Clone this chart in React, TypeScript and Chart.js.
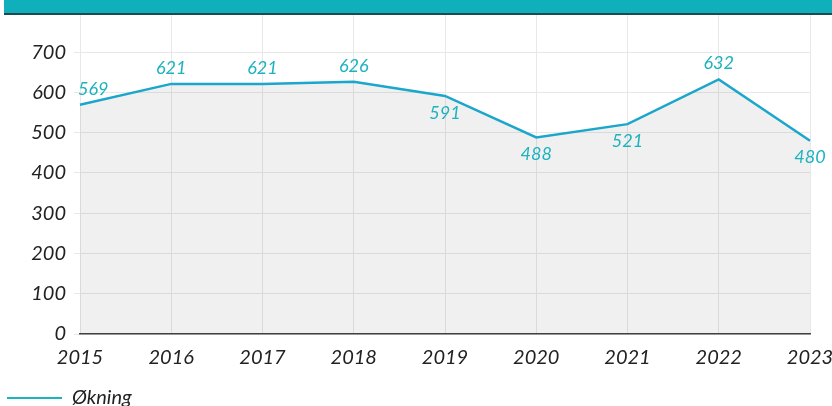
import { useEffect, useRef } from 'react';
import { Chart, registerables } from 'chart.js';

Chart.register(...registerables);

const years = ['2015', '2016', '2017', '2018', '2019', '2020', '2021', '2022', '2023'];
const okning = [569, 621, 621, 626, 591, 488, 521, 632, 480];
const yTickValues = [0, 100, 200, 300, 400, 500, 600, 700];
const labelSides = ['above', 'above', 'above', 'above', 'below', 'below', 'below', 'above', 'below'];
const seriesName = 'Økning';

const FONT = 'Lato, "Open Sans", sans-serif';

const dataLabelPlugin = {
  id: 'dataLabels',
  afterDatasetsDraw(chart: any) {
    const ctx = chart.ctx;
    const meta = chart.getDatasetMeta(0);
    const ds = chart.data.datasets[0];
    ctx.save();
    ctx.font = `italic 18px ${FONT}`;
    ctx.fillStyle = '#1cb2be';
    ctx.textBaseline = 'middle';
    ctx.textAlign = 'center';
    meta.data.forEach((pt: any, i: number) => {
      const text = String(ds.data[i]);
      const w = ctx.measureText(text).width;
      let x = pt.x;
      const y = labelSides[i] === 'above' ? pt.y - 16 : pt.y + 17;
      if (x - w / 2 < 78) x = 78 + w / 2;
      if (x + w / 2 > chart.width - 3) x = chart.width - 3 - w / 2;
      ctx.fillText(text, x, y);
    });
    ctx.restore();
  },
};

export default function App() {
  const ref = useRef<HTMLCanvasElement>(null);
  useEffect(() => {
    if (!ref.current) return;
    const chart = new Chart(ref.current, {
      type: 'line',
      data: {
        labels: years,
        datasets: [
          {
            label: seriesName,
            data: okning,
            borderColor: '#1ba6cb',
            borderWidth: 2.5,
            backgroundColor: 'rgba(0,0,0,0.06)',
            fill: 'origin',
            pointRadius: 0,
            tension: 0,
          },
        ],
      },
      options: {
        responsive: false,
        animation: false,
        layout: { padding: { top: 15, right: 22, left: 3, bottom: -12 } },
        plugins: {
          tooltip: { enabled: false },
          legend: {
            position: 'bottom',
            align: 'start',
            labels: {
              boxWidth: 55,
              boxHeight: 2,
              padding: 4,
              color: '#222',
              font: { family: FONT, size: 20, style: 'italic' },
              generateLabels: (c: any) =>
                c.data.datasets.map((d: any, i: number) => ({
                  text: d.label,
                  fillStyle: '#1cb2be',
                  strokeStyle: '#1cb2be',
                  lineWidth: 0,
                  datasetIndex: i,
                  fontColor: '#222',
                })),
            },
          },
        },
        scales: {
          x: {
            grid: { color: '#e8e8e8', drawTicks: false },
            border: { color: '#444', width: 1.5 },
            ticks: {
              color: '#222',
              padding: 12,
              maxRotation: 0,
              font: { family: FONT, size: 20, style: 'italic' },
            },
            afterFit: (s: any) => {
              s.height = 50;
              s.paddingLeft = 0;
              s.paddingRight = 0;
            },
          },
          y: {
            min: 0,
            max: 792,
            grid: { color: '#e8e8e8', tickLength: 6, tickColor: '#e8e8e8' },
            border: { display: false },
            afterBuildTicks: (s: any) => {
              s.ticks = yTickValues.map((v) => ({ value: v }));
            },
            ticks: {
              color: '#222',
              padding: 8,
              font: { family: FONT, size: 20, style: 'italic' },
            },
            afterFit: (s: any) => {
              s.width = 77;
              s.paddingTop = 0;
              s.paddingBottom = 0;
            },
          },
        },
      },
      plugins: [dataLabelPlugin],
    });
    return () => chart.destroy();
  }, []);

  return (
    <div style={{ position: 'fixed', left: 0, top: 0, width: 832, height: 406, background: '#fff' }}>
      <canvas ref={ref} width={832} height={406} style={{ position: 'absolute', left: 0, top: 0 }} />
      <div
        style={{
          position: 'absolute',
          left: 4,
          top: 0,
          width: 828,
          height: 13,
          background: '#0fb0bb',
          borderBottom: '2px solid #1d4a50',
        }}
      />
    </div>
  );
}
